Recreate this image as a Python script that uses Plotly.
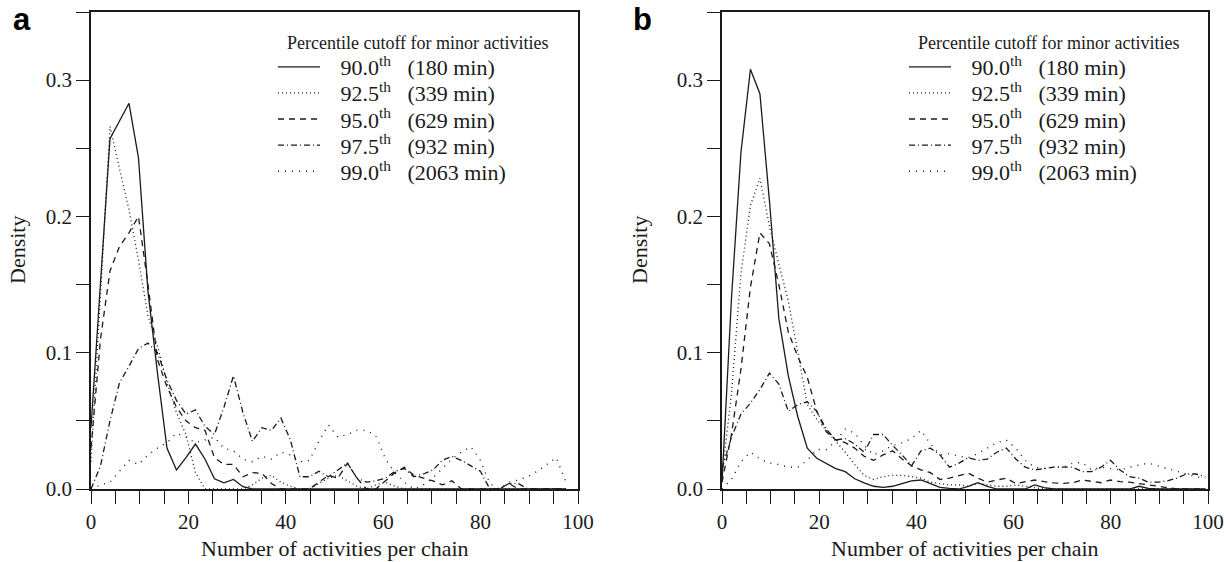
import plotly.graph_objects as go

# shared x grid (number of activities per chain)
x_vals = [0, 1.95, 3.9, 5.85, 7.8, 9.75, 11.7, 13.65, 15.6, 17.55,
          19.5, 21.45, 23.4, 25.35, 27.3, 29.25, 31.2, 33.15, 35.1, 37.05,
          39.0, 40.95, 42.9, 44.85, 46.8, 48.75, 50.7, 52.65, 54.6, 56.55,
          58.5, 60.45, 62.4, 64.35, 66.3, 68.25, 70.2, 72.15, 74.1, 76.05,
          78.0, 79.95, 81.9, 83.85, 85.8, 87.75, 89.7, 91.65, 93.6, 95.55,
          97.5, 99.45]

# ---------- panel a ----------
a_900 = [0.045, 0.15, 0.257, 0.27, 0.283, 0.243, 0.145, 0.085, 0.03, 0.014,
         0.023, 0.033, 0.022, 0.0075, 0.0045, 0.007, 0.0017, 0, 0, 0,
         0, 0, 0, 0, 0, 0, 0, 0, 0, 0,
         0, 0, 0, 0, 0, 0, 0, 0, 0, 0,
         0, 0, 0, 0, 0, 0, 0, 0, 0, 0,
         0, None]
a_925 = [0.02, 0.14, 0.266, 0.235, 0.205, 0.168, 0.127, 0.105, 0.078, 0.056,
         0.04, 0.012, 0.0, 0, 0, 0, 0, 0.003, 0.008, 0.01,
         0.005, 0.002, 0, 0, 0.004, 0.008, 0.01, 0.006, 0.002, 0,
         0.003, 0.005, 0.002, 0, 0, 0, 0, 0, 0, 0,
         0, 0, 0, 0, 0, 0, 0, 0, 0, 0,
         0, None]
a_950 = [0.03, 0.11, 0.16, 0.178, 0.188, 0.2, 0.15, 0.095, 0.075, 0.06,
         0.05, 0.045, 0.043, 0.023, 0.018, 0.018, 0.009, 0.012, 0.0115, 0.004,
         0.0, 0, 0, 0, 0.005, 0.01, 0.008, 0.019, 0.008, 0,
         0, 0.006, 0.012, 0.016, 0.01, 0.008, 0.006, 0.003, 0.006, 0,
         0, 0, 0, 0, 0.004, 0, 0, 0, 0, 0,
         0, None]
a_975 = [0.0, 0.017, 0.05, 0.078, 0.09, 0.103, 0.107, 0.1, 0.08, 0.065,
         0.055, 0.058, 0.046, 0.04, 0.06, 0.083, 0.056, 0.035, 0.045, 0.043,
         0.052, 0.036, 0.009, 0.009, 0.013, 0.009, 0.014, 0.019, 0.008, 0.005,
         0.006, 0.008, 0.013, 0.015, 0.009, 0.011, 0.014, 0.021, 0.024, 0.021,
         0.017, 0.013, 0.0, 0.0, 0.004, 0.004, 0, 0, 0, 0,
         0, None]
a_990 = [0.0, 0.003, 0.005, 0.013, 0.021, 0.018, 0.025, 0.030, 0.034, 0.041,
         0.038, 0.034, 0.036, 0.038, 0.03, 0.028, 0.022, 0.02, 0.024, 0.022,
         0.027, 0.025, 0.02, 0.021, 0.035, 0.047, 0.038, 0.04, 0.043, 0.043,
         0.039, 0.022, 0.012, 0.005, 0.0, 0.003, 0.008, 0.015, 0.022, 0.027,
         0.031, 0.021, 0.004, 0.0, 0.005, 0.0066, 0.009, 0.013, 0.018, 0.023,
         0.005, None]

# ---------- panel b ----------
b_900 = [0.005, 0.14, 0.247, 0.308, 0.29, 0.212, 0.125, 0.083, 0.053, 0.030,
         0.0226, 0.0185, 0.015, 0.0127, 0.0075, 0.0045, 0.002, 0.0012, 0.002, 0.004,
         0.006, 0.0066, 0.004, 0.0012, 0.0005, 0.0, 0.002, 0.0046, 0.002, 0,
         0, 0, 0, 0.003, 0.001, 0, 0, 0, 0, 0,
         0, 0, 0, 0, 0.002, 0.0005, 0, 0, 0, 0,
         0, 0]
b_925 = [0.01, 0.07, 0.158, 0.208, 0.228, 0.193, 0.165, 0.138, 0.1, 0.062,
         0.051, 0.043, 0.035, 0.027, 0.018, 0.01, 0.007, 0.009, 0.010, 0.01,
         0.009, 0.008, 0.005, 0.004, 0.003, 0.003, 0.002, 0.004, 0.003, 0.002,
         0.002, 0.003, 0.002, 0.001, 0, 0, 0, 0, 0, 0,
         0, 0, 0, 0, 0, 0, 0, 0, 0, 0,
         0, 0]
b_950 = [0.005, 0.04, 0.088, 0.148, 0.188, 0.18, 0.15, 0.115, 0.097, 0.082,
         0.057, 0.042, 0.036, 0.034, 0.030, 0.024, 0.021, 0.025, 0.028, 0.022,
         0.017, 0.014, 0.012, 0.007, 0.008, 0.010, 0.0115, 0.008, 0.005, 0.0066,
         0.008, 0.004, 0.0054, 0.0066, 0.0054, 0.0045, 0.0042, 0.0046, 0.0066, 0.0054,
         0.0046, 0.0066, 0.0054, 0.005, 0.0042, 0.003, 0.002, 0.001, 0, 0,
         0, 0]
b_975 = [0.015, 0.038, 0.055, 0.063, 0.073, 0.085, 0.077, 0.057, 0.062, 0.064,
         0.057, 0.044, 0.036, 0.037, 0.033, 0.027, 0.04, 0.04, 0.032, 0.025,
         0.017, 0.028, 0.030, 0.025, 0.016, 0.019, 0.023, 0.021, 0.022, 0.027,
         0.030, 0.022, 0.016, 0.014, 0.015, 0.016, 0.016, 0.016, 0.0127, 0.0127,
         0.016, 0.021, 0.014, 0.009, 0.008, 0.005, 0.005, 0.006, 0.008, 0.011,
         0.011, 0.009]
b_990 = [0.0, 0.007, 0.02, 0.027, 0.022, 0.019, 0.018, 0.016, 0.016, 0.021,
         0.029, 0.029, 0.035, 0.044, 0.041, 0.032, 0.025, 0.028, 0.032, 0.034,
         0.037, 0.043, 0.033, 0.025, 0.026, 0.024, 0.023, 0.026, 0.030, 0.034,
         0.036, 0.030, 0.021, 0.016, 0.015, 0.016, 0.016, 0.019, 0.0195, 0.014,
         0.016, 0.015, 0.014, 0.016, 0.0176, 0.019, 0.017, 0.015, 0.013, 0.0115,
         0.009, 0.008]

percentiles = ["90.0", "92.5", "95.0", "97.5", "99.0"]
minutes = ["(180 min)", "(339 min)", "(629 min)", "(932 min)", "(2063 min)"]
legend_title = "Percentile cutoff for minor activities"
panel_letters = ["a", "b"]
x_title = "Number of activities per chain"
y_title = "Density"

# tick positions and labels
x_major = [0, 20, 40, 60, 80, 100]
x_minor = [5, 10, 15, 25, 30, 35, 45, 50, 55, 65, 70, 75, 85, 90, 95]
y_major = [0.0, 0.1, 0.2, 0.3]
y_major_text = ["0.0", "0.1", "0.2", "0.3"]
y_minor = [0.05, 0.15, 0.25, 0.35]

dashes = ["solid", "1px,3px", "6px,5px", "6px,3px,1px,3px", "1px,6px"]
widths = [1.3, 1.3, 1.3, 1.3, 1.4]

panels = [[a_900, a_925, a_950, a_975, a_990],
          [b_900, b_925, b_950, b_975, b_990]]

SERIF = "Liberation Serif"
INK = "#1a1a1a"
W, H = 1230, 562
NB = "\u00a0"
TH = "\u2009"

# pixel layout (converted to paper fractions)
plot_x = [(91, 578), (722, 1208)]
ydom = [(H - 489) / H, (H - 12) / H]
leg_x = [273, 904]
leg_y = [67 + 26.1 * i for i in range(5)]

fig = go.Figure()
legends = {}
for p, series in enumerate(panels):
    for i, ys in enumerate(series):
        idx = p * 5 + i + 1
        lname = "legend" if idx == 1 else f"legend{idx}"
        fig.add_trace(go.Scatter(
            x=x_vals, y=ys, mode="lines",
            name=f"{NB*2}{TH}{percentiles[i]}<sup>th</sup>{NB*3}{minutes[i]}",
            line=dict(color=INK, width=widths[i], dash=dashes[i]),
            xaxis="x" if p == 0 else "x2", yaxis="y" if p == 0 else "y2",
            legend=lname, hoverinfo="skip"))
        legends[lname] = dict(
            x=leg_x[p] / W, y=1 - leg_y[i] / H, xanchor="left", yanchor="middle",
            bgcolor="rgba(0,0,0,0)", borderwidth=0, itemwidth=42,
            font=dict(family=SERIF, size=22, color=INK),
            itemclick=False, itemdoubleclick=False)

tick_style = dict(ticks="outside", ticklen=13, tickwidth=1.3, tickcolor=INK)
ax_common = dict(showgrid=False, zeroline=False, showline=True, mirror=True,
                 linecolor=INK, linewidth=1.5, fixedrange=True,
                 tickfont=dict(family=SERIF, size=21, color=INK), **tick_style)
x_ax = dict(range=[0, 100], tickmode="array", tickvals=x_major,
            ticktext=[str(v) for v in x_major],
            minor=dict(tickmode="array", tickvals=x_minor, showgrid=False, **tick_style),
            **ax_common)
y_ax = dict(range=[0, 0.35], tickmode="array", tickvals=y_major, ticktext=y_major_text,
            minor=dict(tickmode="array", tickvals=y_minor, showgrid=False, **tick_style),
            **ax_common)

fig.update_layout(
    autosize=True, margin=dict(l=0, r=0, t=0, b=0, autoexpand=False),
    paper_bgcolor="white", plot_bgcolor="white", showlegend=True,
    xaxis=dict(domain=[plot_x[0][0] / W, plot_x[0][1] / W], anchor="y", **x_ax),
    yaxis=dict(domain=ydom, anchor="x", **y_ax),
    xaxis2=dict(domain=[plot_x[1][0] / W, plot_x[1][1] / W], anchor="y2", **x_ax),
    yaxis2=dict(domain=ydom, anchor="x2", **y_ax),
    **legends,
)

annots = []
for p in range(2):
    x0, x1 = plot_x[p]
    annots.append(dict(text=f"<b>{panel_letters[p]}</b>", x=(22 + 620 * p) / W, y=1 - 20 / H,
                       font=dict(family="Liberation Sans", size=31, color="black"),
                       xanchor="center", yanchor="middle", showarrow=False))
    annots.append(dict(text=x_title, x=(x0 + x1) / 2 / W, y=1 - 548 / H,
                       font=dict(family=SERIF, size=22, color=INK),
                       xanchor="center", yanchor="middle", showarrow=False))
    annots.append(dict(text=y_title, x=(17 + 622 * p) / W, y=1 - 250 / H, textangle=-90,
                       font=dict(family=SERIF, size=22, color=INK),
                       xanchor="center", yanchor="middle", showarrow=False))
    annots.append(dict(text=legend_title, x=(285 + 631 * p) / W, y=1 - 43 / H,
                       font=dict(family=SERIF, size=18, color=INK),
                       xanchor="left", yanchor="middle", showarrow=False))
for a in annots:
    a.update(xref="paper", yref="paper")
fig.update_layout(annotations=annots)

fig.write_html(
    "out.html",
    default_width="100vw", default_height="100vh",
    config={"displayModeBar": False, "responsive": True},
    post_script=("document.documentElement.style.margin='0px';"
                 "document.body.style.margin='0px';"
                 "document.documentElement.style.overflow='hidden';"
                 "document.body.style.overflow='hidden';"),
)
